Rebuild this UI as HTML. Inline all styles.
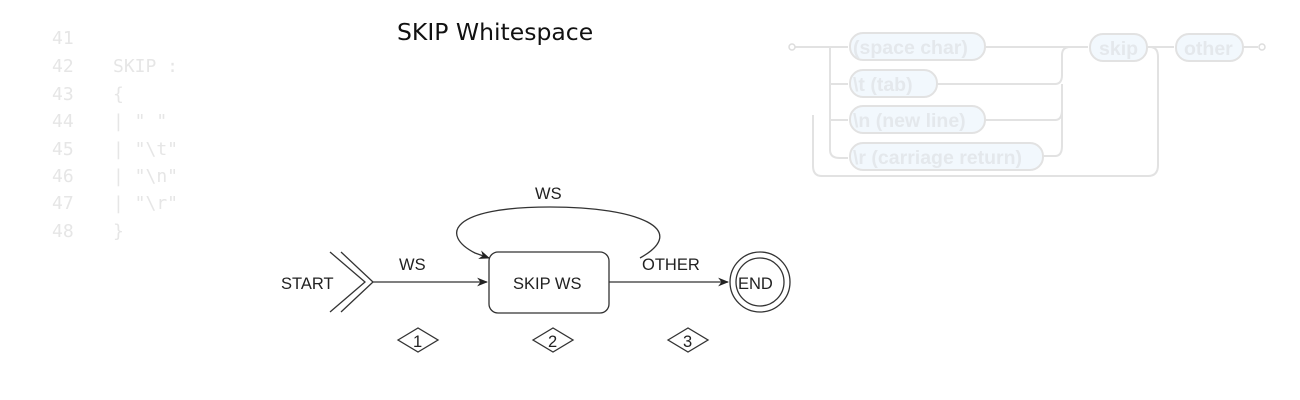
<!DOCTYPE html>
<html><head><meta charset="utf-8"><style>
html,body{margin:0;padding:0;background:#fff;width:1300px;height:400px;overflow:hidden}
svg{display:block}
</style></head><body>
<svg width="1300" height="400" viewBox="0 0 1300 400" xmlns="http://www.w3.org/2000/svg">
<defs>
<marker id="ar" viewBox="0 0 10 10" refX="9" refY="5" markerWidth="11" markerHeight="11" orient="auto" markerUnits="userSpaceOnUse"><path d="M0,1 L10,5 L0,9 L3,5 Z" fill="#222"/></marker>
</defs>
<g font-family="DejaVu Sans Mono, Liberation Mono, monospace" font-size="18" fill="#e6e6e6">
<text x="52" y="44">41</text><text x="52" y="72">42</text><text x="52" y="100">43</text><text x="52" y="127">44</text>
<text x="52" y="155">45</text><text x="52" y="182">46</text><text x="52" y="209">47</text><text x="52" y="237">48</text>
<text x="113" y="72">SKIP :</text><text x="113" y="100">{</text>
<text x="113" y="127">|  " "</text><text x="113" y="155">| "\t"</text><text x="113" y="182">| "\n"</text><text x="113" y="209">| "\r"</text>
<text x="113" y="237">}</text>
</g>
<text x="397" y="40" font-family="DejaVu Sans, sans-serif" font-size="23.5" fill="#111">SKIP Whitespace</text>
<g fill="none" stroke="#e2e2e2" stroke-width="2">
<path d="M795,47 H848"/>
<path d="M985,47 H1088"/>
<path d="M830,47 V150 Q830,158 840,158 H848"/>
<path d="M830,84 H848 M830,120 H848"/>
<path d="M937,84 H1055 Q1062,84 1062,75 V55 Q1062,47 1070,47 H1088"/>
<path d="M985,120 H1055 Q1062,120 1062,110 V84"/>
<path d="M1043,156 H1055 Q1062,156 1062,146 V110"/>
<path d="M1147,47 H1174"/>
<path d="M1243,47 H1258"/>
<path d="M1150,47 Q1158,47 1158,57 V165 Q1158,176 1148,176 H822 Q813,176 813,166 V115"/>
</g>
<circle cx="792" cy="47" r="3" fill="none" stroke="#ddd" stroke-width="1.5"/>
<circle cx="1262" cy="47" r="3" fill="none" stroke="#ddd" stroke-width="1.5"/>
<g fill="#f2f8fd" stroke="#e2e2e2" stroke-width="2">
<rect x="850" y="33" width="135" height="27" rx="13"/>
<rect x="850" y="70" width="87" height="27" rx="13"/>
<rect x="850" y="106" width="135" height="27" rx="13"/>
<rect x="850" y="143" width="193" height="27" rx="13"/>
<rect x="1090" y="34" width="57" height="27" rx="13"/>
<rect x="1176" y="34" width="67" height="27" rx="13"/>
</g>
<g font-family="Liberation Sans, sans-serif" font-weight="bold" font-size="19.5" fill="#e4e8ec">
<text x="853" y="54">(space char)</text>
<text x="853" y="91">\t (tab)</text>
<text x="853" y="127">\n (new line)</text>
<text x="853" y="164">\r (carriage return)</text>
<text x="1099" y="55">skip</text>
<text x="1184" y="55">other</text>
</g>
<g fill="none" stroke="#333" stroke-width="1.3">
<path d="M330,252 L365,282 L330,312"/>
<path d="M341,252 L373,282 L341,312"/>
<path d="M373,282 H487" marker-end="url(#ar)"/>
<path d="M609,282 H728" marker-end="url(#ar)"/>
<path d="M640,258 C690,230 640,207 550,207 C450,207 440,235 475,253 L489,258" marker-end="url(#ar)"/>
<rect x="489" y="252" width="120" height="61" rx="9"/>
<circle cx="760" cy="282" r="30"/>
<circle cx="760" cy="282" r="24"/>
<path d="M398,340 L418,328 L438,340 L418,352 Z"/>
<path d="M533,340 L553,328 L573,340 L553,352 Z"/>
<path d="M668,340 L688,328 L708,340 L688,352 Z"/>
</g>
<g font-family="Liberation Sans, Arial, sans-serif" font-size="16.5" fill="#222">
<text x="281" y="289">START</text>
<text x="399" y="270">WS</text>
<text x="535" y="199">WS</text>
<text x="513" y="289">SKIP WS</text>
<text x="642" y="270">OTHER</text>
<text x="738" y="289">END</text>
<text x="413" y="347">1</text>
<text x="548" y="347">2</text>
<text x="683" y="347">3</text>
</g>
</svg>
</body></html>
